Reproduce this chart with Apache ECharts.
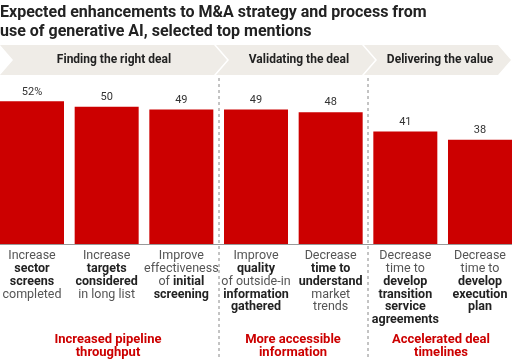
<!DOCTYPE html>
<html><head><meta charset="utf-8">
<script src="https://cdn.jsdelivr.net/npm/echarts@6/dist/echarts.min.js"></script>
<style>html,body{margin:0;padding:0;background:#fff}#c{width:512px;height:360px}</style>
</head><body><div id="c"></div>
<script>
const titleLines = ["Expected enhancements to M&A strategy and process from", "use of generative AI, selected top mentions"];
const categories = [
  "Increase\n{b|sector}\n{b|screens}\ncompleted",
  "Increase\n{b|targets}\n{b|considered}\nin long list",
  "Improve\neffectiveness\nof {b|initial}\n{b|screening}",
  "Improve\n{b|quality}\nof outside-in\n{b|information}\n{b|gathered}",
  "Decrease\n{b|time to}\n{b|understand}\nmarket\ntrends",
  "Decrease\ntime to\n{b|develop}\n{b|transition}\n{b|service}\n{b|agreements}",
  "Decrease\ntime to\n{b|develop}\n{b|execution}\n{b|plan}"
];
const values = [52, 50, 49, 49, 48, 41, 38];
const stages = ["Finding the right deal", "Validating the deal", "Delivering the value"];
const outcomes = ["Increased pipeline\nthroughput", "More accessible\ninformation", "Accelerated deal\ntimelines"];

const FONT = "Roboto";
const chart = echarts.init(document.getElementById('c'), null, {renderer: 'canvas'});

const graphics = [];
// title
graphics.push({type:'text', left: 0, top: 3, style:{text: titleLines.join('\n'), font: 'bold 16px ' + FONT, fill:'#222', lineHeight: 19}});
// banner chevrons
const bt = 45, bb = 75, bm = 60, d = 13;
const segs = [[0, 214], [216, 362], [364, 498]];
segs.forEach((s, i) => {
  const x0 = s[0], x1 = s[1];
  graphics.push({type:'polygon', shape:{points:[[x0,bt],[x1,bt],[x1+d,bm],[x1,bb],[x0,bb],[x0+d,bm]]}, style:{fill:'#efece7'}, silent:true});
});
const stageCenters = [114, 299, 440];
stages.forEach((t, i) => {
  graphics.push({type:'text', x: stageCenters[i], y: bm, style:{text:t, font:'bold 12px ' + FONT, fill:'#222', align:'center', verticalAlign:'middle'}});
});
// dashed dividers
[219, 368].forEach(x => {
  graphics.push({type:'line', shape:{x1:x, y1:78, x2:x, y2:360}, style:{stroke:'#888', lineWidth:1, lineDash:[3,3]}, silent:true, z:10});
});
// outcomes
const outCenters = [108, 293, 441];
outcomes.forEach((t, i) => {
  graphics.push({type:'text', x: outCenters[i], y: 346.5, style:{text:t, font:'bold 13px ' + FONT, fill:'#cc0000', align:'center', verticalAlign:'middle', lineHeight: 13}});
});

chart.setOption({
  animation: false,
  grid: {left: -5.33, right: -5.33, top: 79.3, bottom: 116, containLabel: false, outerBoundsMode: 'none'},
  xAxis: {
    type: 'category', data: categories,
    axisTick: {show: false},
    axisLine: {show: true, lineStyle: {color: '#999', width: 1}},
    axisLabel: {
      interval: 0, margin: 6, color: '#555', fontFamily: FONT, fontSize: 12.5, lineHeight: 12.7,
      verticalAlign: 'top',
      rich: {b: {fontWeight: 'bold', color: '#222', fontFamily: FONT, fontSize: 12.5, lineHeight: 12.7}}
    }
  },
  yAxis: {type: 'value', min: 0, max: 60, show: false, splitLine: {show: false}},
  series: [{
    type: 'bar', data: values, barWidth: 64,
    itemStyle: {color: '#cc0000'},
    label: {show: true, position: 'top', distance: 4, color: '#333', fontFamily: FONT, fontSize: 11,
      formatter: p => p.dataIndex === 0 ? p.value + '%' : String(p.value)}
  }],
  graphic: graphics
});
</script></body></html>
